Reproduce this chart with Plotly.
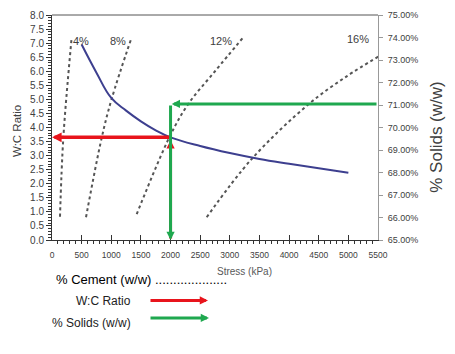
import plotly.graph_objects as go

# ---- data ----
stress = [500, 750, 1000, 1250, 1500, 1750, 2000, 2500, 3000, 3500, 4000, 4500, 5000]
wc_ratio = [6.95, 5.95, 5.05, 4.6, 4.22, 3.9, 3.65, 3.34, 3.09, 2.88, 2.71, 2.55, 2.39]

cement_labels = ["4%", "8%", "12%", "16%"]
c4_x = [135, 191, 332]
c4_y = [0.83, 3.63, 7.21]
c8_x = [574, 838, 1007, 1345]
c8_y = [0.81, 3.63, 5.02, 7.21]
c12_x = [1429, 1991, 2300, 2750, 3228]
c12_y = [0.92, 3.70, 4.84, 6.0, 7.21]
c16_x = [2610, 3369, 4324, 4972, 5505]
c16_y = [0.81, 2.88, 4.82, 5.82, 6.52]
label_x = [489, 1113, 2851, 5162]
label_y = [7.09, 7.09, 7.09, 7.13]

target_stress = 2000
target_wc = 3.65
target_solids = 0.7105

FONT = "Liberation Sans"
GRAY = "#404040"

fig = go.Figure()

for xs, ys in [(c4_x, c4_y), (c8_x, c8_y), (c12_x, c12_y), (c16_x, c16_y)]:
    fig.add_trace(go.Scatter(x=xs, y=ys, mode="lines",
                             line=dict(color="#555555", width=2, dash="dot", shape="spline"),
                             showlegend=False, hoverinfo="skip"))

fig.add_trace(go.Scatter(x=stress, y=wc_ratio, mode="lines",
                         line=dict(color="#3d3f8f", width=2, shape="spline", smoothing=1.2),
                         showlegend=False))

# dummy trace on secondary axis to show it
fig.add_trace(go.Scatter(x=[target_stress], y=[target_solids], yaxis="y2", mode="markers",
                         marker=dict(opacity=0), showlegend=False, hoverinfo="skip"))

annotations = []
for t, lx, ly in zip(cement_labels, label_x, label_y):
    annotations.append(dict(x=lx, y=ly, xref="x", yref="y", text=t, showarrow=False,
                            xanchor="center", yanchor="middle",
                            font=dict(family=FONT, size=11, color=GRAY)))

RED = "#e8141c"
GREEN = "#1fa84f"
AS = 0.55
# red: up from x-axis to the curve, then left to the W:C axis
annotations.append(dict(x=target_stress, y=target_wc - 0.1, xref="x", yref="y",
                        ax=target_stress, ay=0, axref="x", ayref="y", text="",
                        showarrow=True, arrowhead=2, arrowsize=AS, arrowwidth=3, arrowcolor=RED))
annotations.append(dict(x=0, y=target_wc, xref="x", yref="y",
                        ax=target_stress, ay=target_wc, axref="x", ayref="y", text="",
                        showarrow=True, arrowhead=2, arrowsize=AS, arrowwidth=3.5, arrowcolor=RED))
# green: from solids axis left to stress, then down to x-axis
annotations.append(dict(x=target_stress + 20, y=target_solids, xref="x", yref="y2",
                        ax=5500, ay=target_solids, axref="x", ayref="y2", text="",
                        showarrow=True, arrowhead=2, arrowsize=AS, arrowwidth=3, arrowcolor=GREEN))
annotations.append(dict(x=target_stress, y=0.65, xref="x", yref="y2",
                        ax=target_stress, ay=target_solids, axref="x", ayref="y2", text="",
                        showarrow=True, arrowhead=2, arrowsize=AS, arrowwidth=3, arrowcolor=GREEN))

# titles
annotations.append(dict(x=-0.107, y=0.485, xref="paper", yref="paper", text="W:C Ratio",
                        xanchor="center", yanchor="middle",
                        textangle=-90, showarrow=False, font=dict(family=FONT, size=11.5, color=GRAY)))
annotations.append(dict(x=1.181, y=0.4545, xref="paper", yref="paper", text="% Solids (w/w)",
                        xanchor="center", yanchor="middle",
                        textangle=-90, showarrow=False, font=dict(family=FONT, size=17, color=GRAY)))
annotations.append(dict(x=0.589, y=-0.138, xref="paper", yref="paper", text="Stress (kPa)",
                        xanchor="center", yanchor="middle",
                        showarrow=False, font=dict(family=FONT, size=10, color="#595959")))

# legend-like text below
annotations.append(dict(x=0.006, y=-0.1775, xref="paper", yref="paper", xanchor="left",
                        yanchor="middle",
                        text="% Cement (w/w) ....................", showarrow=False,
                        font=dict(family=FONT, size=13, color="#000000")))
annotations.append(dict(x=0.2485, y=-0.2727, xref="paper", yref="paper", xanchor="right",
                        yanchor="middle",
                        text="W:C Ratio", showarrow=False,
                        font=dict(family=FONT, size=12, color="#222222")))
annotations.append(dict(x=0.2485, y=-0.368, xref="paper", yref="paper", xanchor="right",
                        yanchor="middle",
                        text="% Solids (w/w)", showarrow=False,
                        font=dict(family=FONT, size=12, color="#222222")))
annotations.append(dict(x=0.4785, y=-0.2684, xref="paper", yref="paper", ax=-59, ay=0, text="",
                        showarrow=True, arrowhead=2, arrowsize=AS, arrowwidth=3, arrowcolor=RED))
annotations.append(dict(x=0.4816, y=-0.3463, xref="paper", yref="paper", ax=-60, ay=0, text="",
                        showarrow=True, arrowhead=2, arrowsize=AS, arrowwidth=3, arrowcolor=GREEN))

fig.update_layout(
    width=455, height=354,
    margin=dict(l=52, r=77, t=9, b=114),
    paper_bgcolor="white", plot_bgcolor="white",
    showlegend=False,
    xaxis=dict(range=[0, 5500], dtick=500, tick0=0, showgrid=False, zeroline=False,
               showline=True, linecolor="#333333", linewidth=1,
               ticks="inside", ticklen=5, tickcolor="#333333",
               minor=dict(dtick=100, ticks="outside", ticklen=3, tickcolor="#333333"),
               tickfont=dict(family=FONT, size=8.5, color=GRAY), ticklabelstandoff=7),
    yaxis=dict(range=[0, 8], dtick=0.5, tick0=0, tickformat=".1f", showgrid=False, zeroline=False,
               showline=True, linecolor="#333333", linewidth=1,
               ticks="outside", ticklen=5, tickcolor="#333333",
               minor=dict(dtick=0.1, ticks="outside", ticklen=3, tickcolor="#333333"),
               tickfont=dict(family=FONT, size=10, color=GRAY)),
    yaxis2=dict(range=[0.65, 0.75], dtick=0.01, tick0=0.65, tickformat=".2%", overlaying="y",
                side="right", showgrid=False, zeroline=False,
                showline=True, linecolor="#999999", linewidth=1,
                ticks="outside", ticklen=4, tickcolor="#999999",
                tickfont=dict(family=FONT, size=9, color=GRAY), ticklabelstandoff=3),
    shapes=[dict(type="line", xref="paper", yref="paper", x0=0, x1=1, y0=1, y1=1,
                 line=dict(color="#555555", width=1))],
    annotations=annotations,
)

fig.write_html("out.html")
